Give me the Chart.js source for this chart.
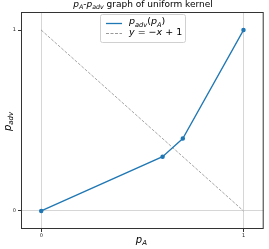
<!DOCTYPE html>
<html>
<head>
<meta charset="utf-8">
<script src="https://cdn.jsdelivr.net/npm/chart.js@4"></script>
<style>
  html, body { margin: 0; padding: 0; background: #fff; }
  canvas { display: block; }
</style>
</head>
<body>
<canvas id="chart" width="269" height="249"></canvas>
<script>
// data
const pA = [0, 0.6, 0.7, 1];
const pAdv = [0, 0.3, 0.4, 1];
const refX = [0, 1];
const refY = [1, 0];
const tickValues = [0, 1];

const FONT = '"DejaVu Sans", sans-serif';

// draw runs of text with italics / subscripts (mathtext-like)
const drawRuns = (ctx, runs, x, y, size, align) => {
    const widths = runs.map(r => {
        const s = r.sub ? size * 0.7 : size;
        ctx.font = (r.italic ? 'italic ' : '') + s + 'px ' + FONT;
        return ctx.measureText(r.text).width;
    });
    const total = widths.reduce((a, b) => a + b, 0);
    let cx = align === 'center' ? x - total / 2 : x;
    ctx.textBaseline = 'middle';
    ctx.textAlign = 'left';
    runs.forEach((r, i) => {
        const s = r.sub ? size * 0.7 : size;
        ctx.font = (r.italic ? 'italic ' : '') + s + 'px ' + FONT;
        ctx.fillText(r.text, cx, r.sub ? y + size * 0.3 : y);
        cx += widths[i];
    });
    return total;
};

const decorations = {
    id: 'decorations',
    afterDraw(chart) {
        const ctx = chart.ctx;
        const a = chart.chartArea;
        ctx.save();
        ctx.fillStyle = '#000';

        // frame
        ctx.strokeStyle = '#333';
        ctx.lineWidth = 1;
        ctx.strokeRect(a.left + 0.5, a.top + 0.5, a.right - a.left - 1, a.bottom - a.top - 1);

        // title
        drawRuns(ctx, [
            { text: 'p', italic: true }, { text: 'A', italic: true, sub: true },
            { text: '-' },
            { text: 'p', italic: true }, { text: 'adv', italic: true, sub: true },
            { text: ' graph of uniform kernel' }
        ], 143, 5, 9, 'center');

        // x label
        drawRuns(ctx, [{ text: 'p', italic: true }, { text: 'A', italic: true, sub: true }],
            (a.left + a.right) / 2 - 1, 240, 10, 'center');

        // y label
        ctx.save();
        ctx.translate(8, (a.top + a.bottom) / 2 + 1);
        ctx.rotate(-Math.PI / 2);
        drawRuns(ctx, [{ text: 'p', italic: true }, { text: 'adv', italic: true, sub: true }],
            0, 0, 10, 'center');
        ctx.restore();

        // legend
        const lx = 100, ly = 14, lw = 85, lh = 28;
        ctx.fillStyle = 'rgba(255,255,255,0.8)';
        ctx.strokeStyle = '#d0d0d0';
        ctx.lineWidth = 1;
        ctx.beginPath();
        ctx.roundRect(lx + 0.5, ly + 0.5, lw, lh, 2);
        ctx.fill();
        ctx.stroke();

        ctx.lineWidth = 1.3;
        ctx.strokeStyle = '#1f77b4';
        ctx.beginPath();
        ctx.moveTo(106, 23.5);
        ctx.lineTo(122, 23.5);
        ctx.stroke();

        ctx.lineWidth = 1;
        ctx.strokeStyle = 'rgba(0,0,0,0.4)';
        ctx.setLineDash([3, 1.5]);
        ctx.beginPath();
        ctx.moveTo(106, 33.5);
        ctx.lineTo(122, 33.5);
        ctx.stroke();
        ctx.setLineDash([]);

        ctx.fillStyle = '#000';
        drawRuns(ctx, [
            { text: 'p', italic: true }, { text: 'adv', italic: true, sub: true },
            { text: '(' }, { text: 'p', italic: true }, { text: 'A', italic: true, sub: true }, { text: ')' }
        ], 129, 22, 9.5, 'left');
        drawRuns(ctx, [
            { text: 'y', italic: true }, { text: ' = \u2212' }, { text: 'x', italic: true }, { text: ' + 1' }
        ], 129, 33, 9.5, 'left');

        ctx.restore();
    }
};

new Chart(document.getElementById('chart').getContext('2d'), {
    type: 'scatter',
    data: {
        datasets: [
            {
                label: 'p_adv(p_A)',
                data: pA.map((x, i) => ({ x: x, y: pAdv[i] })),
                showLine: true,
                borderColor: '#1f77b4',
                backgroundColor: '#1f77b4',
                borderWidth: 1.3,
                pointRadius: 1.6,
                order: 1
            },
            {
                label: 'y = -x + 1',
                data: refX.map((x, i) => ({ x: x, y: refY[i] })),
                showLine: true,
                borderColor: 'rgba(0,0,0,0.45)',
                borderWidth: 0.8,
                borderDash: [3, 1.5],
                pointRadius: 0,
                order: 2
            }
        ]
    },
    options: {
        responsive: false,
        animation: false,
        devicePixelRatio: 1,
        layout: { padding: { left: 0, right: 4, top: 12, bottom: 0 } },
        plugins: { legend: { display: false }, title: { display: false }, tooltip: { enabled: false } },
        scales: {
            x: {
                type: 'linear',
                min: -0.1,
                max: 1.1,
                afterBuildTicks: s => { s.ticks = tickValues.map(v => ({ value: v })); },
                afterFit: s => { s.height = 20; },
                grid: {
                    color: c => (c.tick && (c.tick.value === 0 || c.tick.value === 1)) ? '#d6d6d6' : 'rgba(0,0,0,0)',
                    tickColor: '#333',
                    tickLength: 3,
                    drawTicks: true
                },
                border: { display: false },
                ticks: { font: { family: FONT, size: 5 }, color: '#222', padding: 1, maxRotation: 0 }
            },
            y: {
                type: 'linear',
                min: -0.1,
                max: 1.1,
                afterBuildTicks: s => { s.ticks = tickValues.map(v => ({ value: v })); },
                afterFit: s => { s.width = 21; },
                grid: {
                    color: c => (c.tick && c.tick.value === 0) ? '#d6d6d6' : 'rgba(0,0,0,0)',
                    tickColor: '#333',
                    tickLength: 3,
                    drawTicks: true
                },
                border: { display: false },
                ticks: { font: { family: FONT, size: 5 }, color: '#222', padding: 2 }
            }
        }
    },
    plugins: [decorations]
});
</script>
</body>
</html>
